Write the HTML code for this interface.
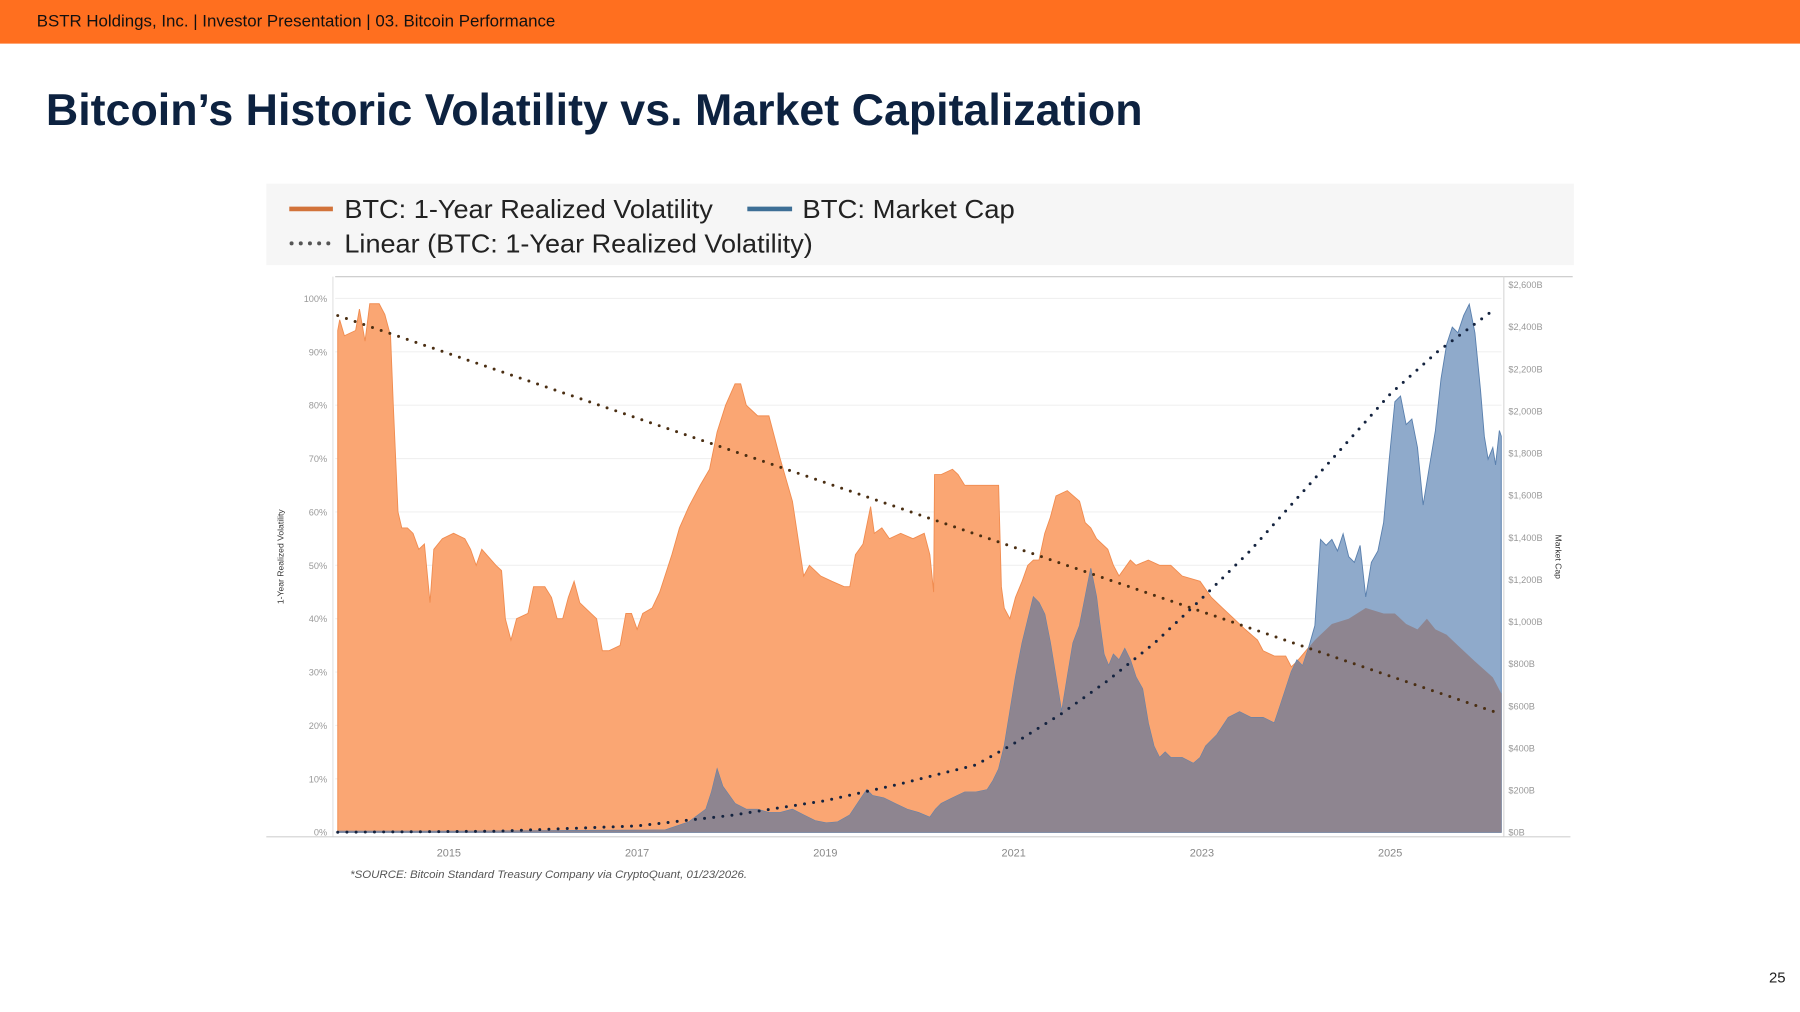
<!DOCTYPE html>
<html><head><meta charset="utf-8">
<style>
html,body{margin:0;padding:0;background:#fff;}
body{width:1800px;height:1012px;overflow:hidden;}
svg{display:block;font-family:"Liberation Sans",sans-serif;}
</style></head>
<body>
<svg id="chart" width="1800" height="1012" viewBox="0 0 1568 881.6" preserveAspectRatio="none" xmlns="http://www.w3.org/2000/svg">
  <rect x="0" y="0" width="1568" height="38" fill="#FF6F1F"/>
  <text x="32" y="23" font-size="14.7" fill="#111">BSTR Holdings, Inc. | Investor Presentation | 03. Bitcoin Performance</text>
  <text x="40" y="109" font-size="39" font-weight="bold" fill="#0d2240">Bitcoin’s Historic Volatility vs. Market Capitalization</text>

  <g>
    <rect x="232" y="160" width="1139" height="71" fill="#f6f6f6"/>
    <line x1="252" y1="182" x2="290" y2="182" stroke="#D2733A" stroke-width="4"/>
    <text x="300" y="190" font-size="22.5" fill="#222" textLength="321" lengthAdjust="spacingAndGlyphs">BTC: 1-Year Realized Volatility</text>
    <line x1="651" y1="182" x2="690" y2="182" stroke="#3E6F96" stroke-width="4"/>
    <text x="699" y="190" font-size="22.5" fill="#222" textLength="185" lengthAdjust="spacingAndGlyphs">BTC: Market Cap</text>
    <line x1="254" y1="212" x2="290" y2="212" stroke="#555" stroke-width="3.5" stroke-linecap="round" stroke-dasharray="0 8"/>
    <text x="300" y="220" font-size="22.5" fill="#222" textLength="408" lengthAdjust="spacingAndGlyphs">Linear (BTC: 1-Year Realized Volatility)</text>
  </g>

  <g id="plot"></g>

  <text x="305" y="765" font-size="10" font-style="italic" fill="#555">*SOURCE: Bitcoin Standard Treasury Company via CryptoQuant, 01/23/2026.</text>
  <text x="1541" y="856" font-size="13" fill="#222">25</text>
</svg>
<script>
const volYears=[2013.82,2013.84,2013.89,2014.01,2014.05,2014.11,2014.16,2014.26,2014.32,2014.38,2014.41,2014.46,2014.50,2014.56,2014.62,2014.68,2014.74,2014.80,2014.84,2014.93,2015.05,2015.17,2015.23,2015.29,2015.35,2015.50,2015.56,2015.60,2015.66,2015.72,2015.84,2015.90,2016.02,2016.09,2016.15,2016.21,2016.27,2016.33,2016.39,2016.51,2016.57,2016.63,2016.70,2016.82,2016.88,2016.94,2017.00,2017.06,2017.16,2017.24,2017.37,2017.45,2017.55,2017.67,2017.77,2017.85,2017.94,2018.04,2018.10,2018.16,2018.28,2018.40,2018.52,2018.65,2018.71,2018.77,2018.83,2018.95,2019.07,2019.20,2019.26,2019.32,2019.40,2019.48,2019.52,2019.60,2019.68,2019.80,2019.93,2020.05,2020.11,2020.15,2020.16,2020.23,2020.35,2020.41,2020.48,2020.60,2020.72,2020.84,2020.87,2020.90,2020.96,2021.02,2021.09,2021.15,2021.21,2021.27,2021.33,2021.39,2021.45,2021.57,2021.70,2021.76,2021.82,2021.88,2022.00,2022.06,2022.12,2022.24,2022.30,2022.43,2022.55,2022.67,2022.79,2022.98,2023.10,2023.22,2023.34,2023.46,2023.59,2023.65,2023.77,2023.89,2023.95,2024.01,2024.20,2024.38,2024.56,2024.74,2024.93,2025.05,2025.17,2025.29,2025.39,2025.48,2025.60,2025.72,2025.90,2026.09,2026.18];
const volValues=[94,96,93,94,98,92,99,99,97,93,80,60,57,57,56,53,54,43,53,55,56,55,53,50,53,50,49,40,36,40,41,46,46,44,40,40,44,47,43,41,40,34,34,35,41,41,38,41,42,45,52,57,61,65,68,75,80,84,84,80,78,78,70,62,55,48,50,48,47,46,46,52,54,61,56,57,55,56,55,56,52,45,67,67,68,67,65,65,65,65,46,42,40,44,47,50,51,51,56,59,63,64,62,58,57,55,53,50,48,51,50,51,50,50,48,47,44,42,40,38,36,34,33,33,31,32,36,39,40,42,41,41,39,38,40,38,37,35,32,29,26];
const capYears=[2013.82,2015.11,2016.33,2017.06,2017.30,2017.55,2017.73,2017.79,2017.85,2017.91,2018.04,2018.16,2018.28,2018.40,2018.52,2018.65,2018.77,2018.89,2019.01,2019.13,2019.26,2019.38,2019.44,2019.50,2019.62,2019.74,2019.87,2019.99,2020.11,2020.17,2020.23,2020.35,2020.48,2020.60,2020.72,2020.78,2020.84,2020.90,2020.96,2021.02,2021.09,2021.15,2021.21,2021.27,2021.33,2021.39,2021.45,2021.51,2021.57,2021.63,2021.70,2021.76,2021.82,2021.88,2021.91,2021.96,2022.01,2022.06,2022.12,2022.18,2022.24,2022.30,2022.37,2022.43,2022.49,2022.55,2022.61,2022.67,2022.79,2022.91,2022.98,2023.04,2023.16,2023.28,2023.40,2023.52,2023.65,2023.77,2023.83,2023.89,2023.95,2024.01,2024.07,2024.13,2024.20,2024.26,2024.32,2024.38,2024.44,2024.50,2024.56,2024.62,2024.68,2024.74,2024.80,2024.87,2024.93,2024.99,2025.05,2025.11,2025.17,2025.23,2025.29,2025.35,2025.41,2025.48,2025.54,2025.60,2025.66,2025.72,2025.78,2025.84,2025.90,2025.96,2026.00,2026.04,2026.09,2026.12,2026.16,2026.18];
const capValues=[5,5,8,10,11,49,109,191,300,218,136,109,109,93,93,109,82,55,44,49,82,163,202,174,163,136,109,93,71,109,136,163,191,191,202,245,300,409,572,736,899,1008,1117,1090,1035,899,736,572,736,899,981,1117,1253,1117,1008,845,790,845,818,872,818,736,681,518,409,354,381,354,354,327,354,409,463,545,572,545,545,518,600,681,763,818,790,872,981,1390,1362,1390,1335,1417,1308,1281,1362,1117,1281,1335,1471,1771,2044,2071,1935,1962,1826,1553,1717,1907,2153,2316,2398,2371,2453,2507,2371,2098,1880,1771,1826,1744,1907,1880];
const capTrendYears=[2013.82,2015.5,2017.0,2018.0,2019.0,2019.8,2020.6,2021.0,2021.5,2022.0,2022.5,2023.0,2023.5,2024.0,2024.5,2025.0,2025.5,2026.1];
const capTrendValues=[0,5,30,80,150,230,320,420,560,720,900,1110,1330,1580,1830,2080,2280,2480];
const volTrendYears=[2013.82,2026.1];
const volTrendValues=[96.8,22.6];
const volTicks=[0,10,20,30,40,50,60,70,80,90,100];
const capTicks=[0,200,400,600,800,1000,1200,1400,1600,1800,2000,2200,2400,2600];
const yearTicks=[2015,2017,2019,2021,2023,2025];

const NS='http://www.w3.org/2000/svg';
const plot=document.getElementById('plot');
const X=y=>391+(y-2015)*82;
const YV=v=>725-v*4.65;
const YC=v=>725-v*0.1835;
function mk(tag,attrs,parent){const e=document.createElementNS(NS,tag);for(const k in attrs)e.setAttribute(k,attrs[k]);(parent||plot).appendChild(e);return e;}
function areaPath(xs,vs,fy){let d='M'+X(xs[0])+','+fy(0);xs.forEach((x,i)=>{d+=' L'+X(x).toFixed(1)+','+fy(vs[i]).toFixed(1);});d+=' L'+X(xs[xs.length-1])+','+fy(0)+' Z';return d;}
function linePath(xs,vs,fy){return xs.map((x,i)=>(i?'L':'M')+X(x).toFixed(1)+','+fy(vs[i]).toFixed(1)).join(' ');}

let e;
e=mk('line',{x1:292,y1:241,x2:1370,y2:241,stroke:'#c8c8c8','stroke-width':1});


e=mk('line',{x1:290,y1:241,x2:290,y2:729,stroke:'#e2e2e2','stroke-width':1});


e=mk('line',{x1:1310,y1:241,x2:1310,y2:729,stroke:'#d8d8d8','stroke-width':1});



volTicks.forEach(t=>{
  const g=mk('line',{x1:292,x2:1308,y1:YV(t),y2:YV(t),stroke:'#f0f0f0','stroke-width':1});
  
  
  const l=mk('text',{x:285,y:YV(t)+3,'font-size':8,fill:'#999','text-anchor':'end'});
  
  
  l.textContent=t+'%';
});
capTicks.forEach(t=>{
  const l=mk('text',{x:1314,y:YC(t)+3,'font-size':8,fill:'#999'});
  
  
  l.textContent='$'+t.toLocaleString('en-US')+'B';
});
yearTicks.forEach(t=>{
  const l=mk('text',{x:X(t),y:746,'font-size':9.5,fill:'#888','text-anchor':'middle'});
  
  
  l.textContent=t;
});
e=mk('text',{x:0,y:0,'font-size':7.5,fill:'#333','text-anchor':'middle',transform:'translate(247,485) rotate(-90)'});


e.textContent='1-Year Realized Volatility';
e=mk('text',{x:0,y:0,'font-size':7.5,fill:'#333','text-anchor':'middle',transform:'translate(1355,485) rotate(90)'});


e.textContent='Market Cap';

const defs=mk('defs',{});
const cp=mk('clipPath',{id:'volclip'},defs);
mk('path',{d:areaPath(volYears,volValues,YV)},cp);
e=mk('path',{d:areaPath(volYears,volValues,YV),fill:'#FAA673',stroke:'#F08C50','stroke-width':0.8});


e=mk('path',{d:areaPath(capYears,capValues,YC),fill:'#8FAACB',stroke:'#5A80AE','stroke-width':0.8});


e=mk('path',{d:areaPath(capYears,capValues,YC),fill:'#8E8590','clip-path':'url(#volclip)'});



e=mk('line',{x1:232,y1:729,x2:1368,y2:729,stroke:'#d0d0d0','stroke-width':1});



e=mk('path',{d:linePath(volTrendYears,volTrendValues,YV),fill:'none',stroke:'#4a2e12','stroke-width':2.6,'stroke-linecap':'round','stroke-dasharray':'0 8'});


e=mk('path',{d:linePath(capTrendYears,capTrendValues,YC),fill:'none',stroke:'#14233f','stroke-width':2.6,'stroke-linecap':'round','stroke-dasharray':'0 8'});


</script>
</body></html>
